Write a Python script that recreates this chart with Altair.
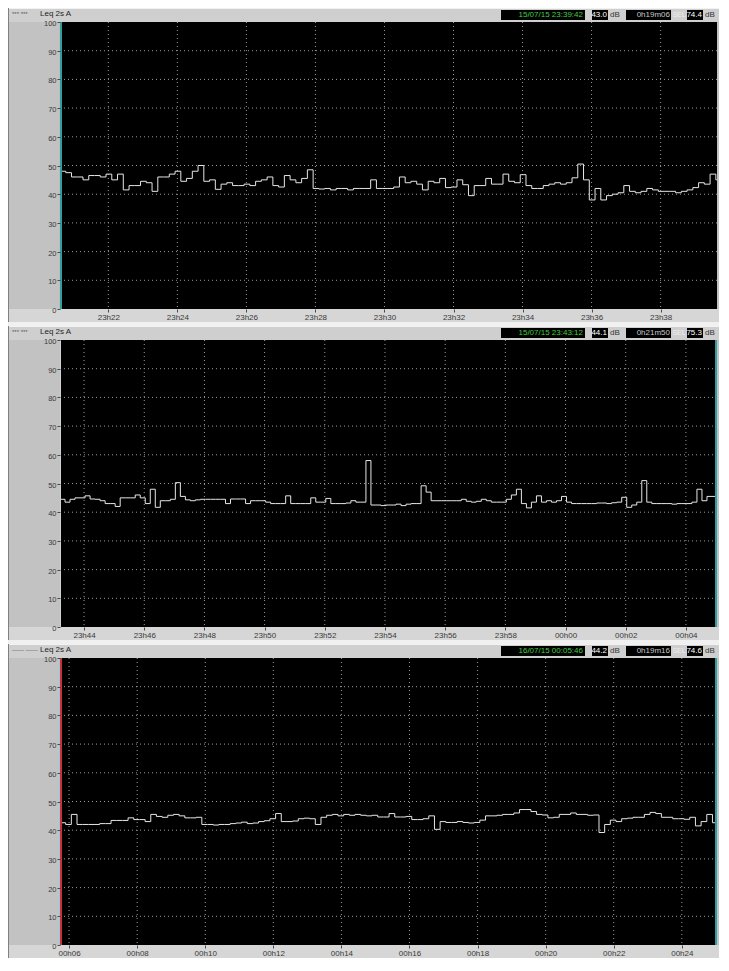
import altair as alt
import pandas as pd
from datetime import datetime, timedelta

STEP_S = 10          # seconds between plotted samples
W = 657
H = 287

Y_TICKS = [0, 10, 20, 30, 40, 50, 60, 70, 80, 90, 100]
Y_GRID = [10, 20, 30, 40, 50, 60, 70, 80, 90]

# ---------------- panel 1 ----------------
p1_start = "2015-07-15T23:20:36"
p1_end = "2015-07-15T23:39:38"
p1_ticks = ["2015-07-15T23:22", "2015-07-15T23:24", "2015-07-15T23:26", "2015-07-15T23:28",
            "2015-07-15T23:30", "2015-07-15T23:32", "2015-07-15T23:34", "2015-07-15T23:36",
            "2015-07-15T23:38"]
p1_values = [48, 47.5, 46, 46, 45, 46.5, 46.5, 46, 47, 45,
             47, 41.5, 43, 43, 44.5, 44, 41, 46, 46, 47,
             48, 44.5, 45.5, 48, 50, 44.5, 45, 41.7, 43.5, 44,
             43, 43, 43.5, 43, 44.5, 45, 46, 43, 42.5, 46.5,
             45, 44, 45.5, 48.5, 42, 41.8, 42, 41.5, 42, 42,
             41.5, 42, 42, 42, 45, 42, 42, 42, 42.5, 46,
             44, 44.5, 43.5, 41.5, 44.5, 44, 45.5, 42.3, 42.5, 45,
             43.3, 39.5, 43, 43, 45.5, 43.5, 43.5, 47, 44.5, 44,
             46.8, 43, 42, 42, 43, 43.5, 44, 43.5, 44, 45.7,
             50.5, 45, 38, 42, 38, 39.5, 40, 40.5, 43, 41,
             40.5, 41, 42, 41.5, 41, 41, 41, 40.5, 41, 41.5,
             42.3, 44, 43.5, 47, 45, 45]
p1_info = ["*** ***", "15/07/15 23:39:42", "43.0", "0h19m06", "74.4"]

# ---------------- panel 2 ----------------
p2_start = "2015-07-15T23:43:12"
p2_end = "2015-07-16T00:05:02"
p2_ticks = ["2015-07-15T23:44", "2015-07-15T23:46", "2015-07-15T23:48", "2015-07-15T23:50",
            "2015-07-15T23:52", "2015-07-15T23:54", "2015-07-15T23:56", "2015-07-15T23:58",
            "2015-07-16T00:00", "2015-07-16T00:02", "2015-07-16T00:04"]
p2_values = [44.5, 43.5, 44.5, 45, 45, 45.7, 44.6, 44.5, 44, 43,
             43, 42, 45, 45, 45, 46, 45, 43, 48, 41.7,
             44, 44, 44.5, 50.3, 45.5, 44.3, 44, 44.3, 44.5, 44.5,
             44.5, 44.5, 44.5, 43, 44.6, 44.6, 44.6, 43, 44, 44,
             44, 43.5, 43, 43, 43, 45.7, 43, 43, 43, 43,
             45, 43.5, 43.5, 44.8, 43, 43, 43, 43.2, 44, 43.5,
             43.5, 58, 42.5, 42.5, 42.3, 42.5, 42.5, 42.8, 42.3, 42.8,
             43, 43, 49.2, 47, 44, 44, 44, 44, 44, 44,
             44.5, 43.8, 43.5, 43.8, 44.5, 44, 43.5, 43.5, 43.5, 44.5,
             46, 48, 43, 41.5, 43.5, 45.7, 43.5, 44, 43.5, 44,
             45.5, 43.5, 43, 43, 43, 43, 43, 43.2, 43.2, 43,
             43.3, 43.5, 45.2, 41.7, 42.5, 43.5, 51, 43.5, 43, 43,
             43, 43, 42.8, 43, 43, 43, 43.5, 48, 44, 45.5,
             45.5, 45]
p2_info = ["*** ***", "15/07/15 23:43:12", "44.1", "0h21m50", "75.3"]

# ---------------- panel 3 ----------------
p3_start = "2015-07-16T00:05:44"
p3_end = "2015-07-16T00:25:02"
p3_ticks = ["2015-07-16T00:06", "2015-07-16T00:08", "2015-07-16T00:10", "2015-07-16T00:12",
            "2015-07-16T00:14", "2015-07-16T00:16", "2015-07-16T00:18", "2015-07-16T00:20",
            "2015-07-16T00:22", "2015-07-16T00:24"]
p3_values = [42.6, 42, 45.5, 42, 42, 42, 42, 42.3, 42.3, 43.4,
             43.4, 43.4, 44.3, 43.7, 43.7, 43, 45.5, 44.8, 44.5, 45.2,
             45.5, 45, 44.3, 44.3, 44.5, 42, 42, 41.8, 42, 42,
             42.3, 42.5, 42.8, 42.3, 42.5, 43, 43.3, 44, 45.8, 43,
             43, 43.2, 44, 44.2, 44, 42, 44.5, 45.2, 45.5, 45,
             45.5, 45.2, 45.5, 45.2, 45, 45.2, 44.6, 44.6, 45.8, 44.6,
             44.6, 44.8, 43.7, 43.7, 44, 45, 40.3, 43, 42.7, 42.7,
             43, 42.7, 42.5, 42.7, 43.5, 45, 45, 45.2, 45.5, 45.5,
             46, 47.2, 47.2, 46.5, 45.5, 45.3, 44.3, 44.5, 45.5, 45.5,
             46, 45.5, 45.5, 45.2, 45.3, 39.2, 42, 43.5, 43, 44,
             44.2, 44.5, 44.5, 45.5, 46.2, 45.8, 44.5, 44.5, 44, 44,
             43.8, 44.5, 41.5, 43, 45.5, 42.6, 42.6]
p3_info = ["\u2014\u2014 \u2014\u2014", "16/07/15 00:05:46", "44.2", "0h19m16", "74.6"]

FONT = "Liberation Sans"
GRID = "#9a9a9a"
TEAL = "#2f9e9e"
RED = "#c83232"

one = pd.DataFrame({"k": [0]})


def dt(s):
    d = datetime.fromisoformat(s)
    return alt.DateTime(year=d.year, month=d.month, date=d.day,
                        hours=d.hour, minutes=d.minute, seconds=d.second)


def box(x1, x2, y1, y2, color):
    return alt.Chart(one).mark_rect(color=color).encode(
        x=alt.value(x1), x2=alt.value(x2), y=alt.value(y1), y2=alt.value(y2))


def label(x, y, s, color, align="left", size=8):
    return alt.Chart(one).mark_text(text=s, align=align, baseline="middle",
                                    fontSize=size, color=color, font=FONT).encode(
        x=alt.value(x), y=alt.value(y))


def build_panel(start, end, values, ticks, info, cursors, separator):
    t0 = datetime.fromisoformat(start)
    df = pd.DataFrame({
        "t": [(t0 + timedelta(seconds=STEP_S * i)).isoformat() for i in range(len(values))],
        "v": values,
    })
    xax = alt.Axis(values=[dt(s) for s in ticks], format="%Hh%M", grid=False, domain=False,
                   tickSize=3, tickColor="#4a4a4a", labelFontSize=8, labelColor="#3a3a3a",
                   labelPadding=1, labelFont=FONT, title=None, zindex=1)
    yax = alt.Axis(values=Y_TICKS, grid=False, domain=False, tickSize=3, tickColor="#4a4a4a",
                   labelFontSize=7.5, labelColor="#3a3a3a", labelPadding=1, labelFont=FONT,
                   labelOffset=1.5, title=None, zindex=1)
    X = alt.X("t:T", scale=alt.Scale(domain=[dt(start), dt(end)]), axis=xax)
    Y = alt.Y("v:Q", scale=alt.Scale(domain=[0, 100], nice=False), axis=yax)

    layers = [
        box(-52, W + 2, -14, 0, "#cfcfcf"),          # header strip
        box(-52, W + 2, -14, -13, "#f2f2f2"),
        box(-52, W + 2, H, H + 13, "#d6d6d6"),       # time-axis band
        box(-52, -51, -14, H + 13, "#808080"),        # left frame
    ]
    if separator:
        layers.append(box(-52, W + 2, H + 13, H + 17, "#f0f0f0"))

    xg = alt.Chart(pd.DataFrame({"t": ticks})).mark_rule(
        color=GRID, strokeDash=[1, 3], strokeWidth=1).encode(x=X)
    yg = alt.Chart(pd.DataFrame({"v": Y_GRID})).mark_rule(
        color=GRID, strokeDash=[1, 3], strokeWidth=1).encode(y=Y)
    line = alt.Chart(df).mark_line(interpolate="step-after", color="#e6e6e6",
                                   strokeWidth=1, clip=True).encode(x=X, y=Y)
    layers += [xg, yg, line]

    for (a, b, c) in cursors:
        layers.append(box(a, b, 0, H, c))

    tag, stamp, leq, dur, sel = info
    layers += [
        label(-48, -8, tag, "#5a5a5a", size=6),
        label(-20, -8.5, "Leq 2s  A", "#1e1e1e", size=8),
        box(441, 525, -12, -2, "#000000"),
        label(523, -7, stamp, "#3fcf3f", align="right"),
        box(532, 548, -12, -2, "#000000"),
        label(547, -7, leq, "#ffffff", align="right"),
        label(550, -7, "dB", "#333333"),
        box(566, 611, -12, -2, "#000000"),
        label(610, -7, dur, "#c8c8c8", align="right"),
        label(619, -7, "SEL", "#eeeeee", align="center", size=7),
        box(627, 643, -12, -2, "#000000"),
        label(642, -7, sel, "#ffffff", align="right"),
        label(645, -7, "dB", "#333333"),
    ]
    return alt.layer(*layers).properties(width=W, height=H)


p1 = build_panel(p1_start, p1_end, p1_values, p1_ticks, p1_info,
                 [(-1, 0, "#bdbdbd"), (0, 2, TEAL)], True)
p2 = build_panel(p2_start, p2_end, p2_values, p2_ticks, p2_info,
                 [(0, 1, "#d0d0d0"), (W - 2, W, TEAL)], True)
p3 = build_panel(p3_start, p3_end, p3_values, p3_ticks, p3_info,
                 [(-1, 0, "#9fc3e0"), (0, 2, RED), (W - 2, W, TEAL)], False)

chart = alt.vconcat(p1, p2, p3, spacing=0).properties(
    padding=0, background="#c2c2c2"
).configure_view(fill="#000000", stroke=None)

chart.save("out.html", embed_options={"renderer": "svg", "actions": False})
